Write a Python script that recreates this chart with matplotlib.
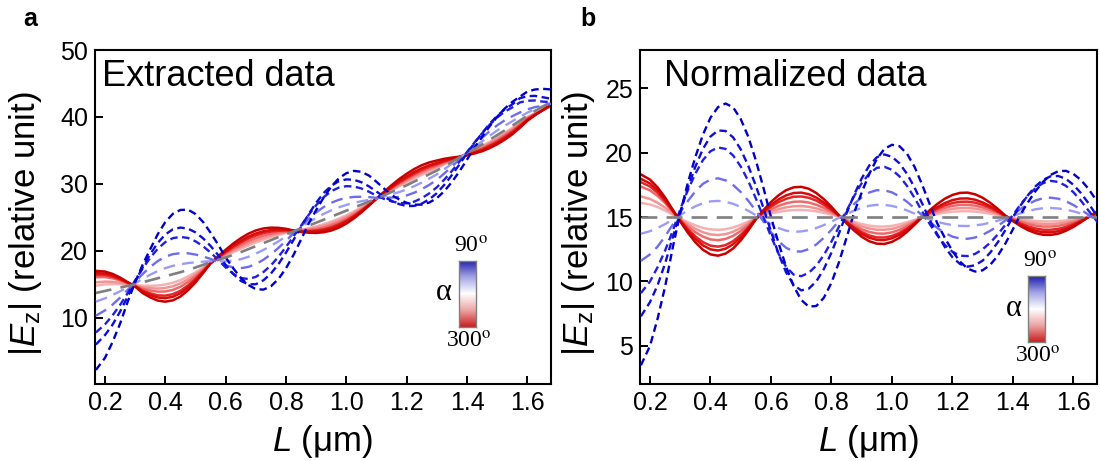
import matplotlib
matplotlib.use("Agg")
import matplotlib.pyplot as plt
import numpy as np
from matplotlib.colors import LinearSegmentedColormap

plt.rcParams['font.family'] = ['Liberation Sans', 'DejaVu Sans']
plt.rcParams['mathtext.fontset'] = 'custom'
plt.rcParams['mathtext.rm'] = 'Liberation Sans'
plt.rcParams['mathtext.it'] = 'Liberation Sans:italic'

# ---------------- data ----------------
L_um = [0.17, 0.200, 0.225, 0.250, 0.275, 0.300, 0.325, 0.350, 0.375, 0.400,
        0.425, 0.450, 0.475, 0.500, 0.525, 0.550, 0.575, 0.600, 0.625, 0.650,
        0.675, 0.700, 0.725, 0.750, 0.775, 0.800, 0.825, 0.850, 0.875, 0.900,
        0.925, 0.950, 0.975, 1.000, 1.025, 1.050, 1.075, 1.100, 1.125, 1.150,
        1.175, 1.200, 1.225, 1.250, 1.275, 1.300, 1.325, 1.350, 1.375, 1.400,
        1.425, 1.450, 1.475, 1.500, 1.525, 1.550, 1.575, 1.600, 1.625, 1.650,
        1.680]

# ---- panel a: extracted data ----
trend_a = [13.7, 14.0, 14.25, 14.5, 14.75, 15.0, 15.3, 15.6, 15.9, 16.2,
           16.5, 16.8, 17.15, 17.5, 17.9, 18.3, 18.65, 19.0, 19.4, 19.8,
           20.25, 20.7, 21.15, 21.6, 22.05, 22.5, 22.9, 23.3, 23.75, 24.2,
           24.65, 25.1, 25.55, 26.0, 26.45, 26.9, 27.35, 27.8, 28.3, 28.8,
           29.3, 29.8, 30.35, 30.9, 31.45, 32.0, 32.65, 33.3, 33.95, 34.6,
           35.25, 35.9, 36.6, 37.3, 38.0, 38.7, 39.45, 40.2, 40.9, 41.5,
           42.3]
red_a1 = [17.00, 16.90, 16.55, 16.01, 15.33, 14.65, 13.69, 13.04, 12.56, 12.40,
          12.60, 13.16, 14.11, 15.28, 16.66, 18.12, 19.18, 20.16, 21.08, 21.88,
          22.55, 23.04, 23.34, 23.46, 23.43, 23.29, 23.03, 22.81, 22.70, 22.67,
          22.77, 23.03, 23.46, 24.07, 24.84, 25.75, 26.75, 27.80, 28.83, 29.81,
          30.72, 31.51, 32.22, 32.79, 33.21, 33.49, 33.75, 33.93, 34.06, 34.28,
          34.55, 34.88, 35.35, 35.92, 36.61, 37.41, 38.38, 39.43, 40.25, 41.00,
          41.94]
red_a2 = [16.66, 16.60, 16.31, 15.85, 15.27, 14.69, 13.91, 13.39, 13.02, 12.92,
          13.13, 13.66, 14.53, 15.58, 16.83, 18.15, 19.08, 19.93, 20.76, 21.48,
          22.11, 22.59, 22.92, 23.10, 23.17, 23.14, 23.01, 22.88, 22.85, 22.89,
          23.04, 23.33, 23.76, 24.35, 25.07, 25.91, 26.83, 27.80, 28.70, 29.57,
          30.38, 31.11, 31.78, 32.34, 32.79, 33.13, 33.49, 33.78, 34.03, 34.32,
          34.65, 35.03, 35.53, 36.12, 36.81, 37.60, 38.53, 39.54, 40.31, 41.00,
          41.87]
red_a3 = [16.40, 16.37, 16.13, 15.73, 15.23, 14.73, 14.07, 13.65, 13.35, 13.30,
          13.52, 14.02, 14.83, 15.81, 16.95, 18.16, 19.01, 19.79, 20.55, 21.21,
          21.82, 22.29, 22.64, 22.87, 22.99, 23.04, 22.99, 22.93, 22.95, 23.04,
          23.22, 23.52, 23.96, 24.53, 25.22, 26.02, 26.89, 27.80, 28.63, 29.44,
          30.20, 30.88, 31.53, 32.09, 32.56, 32.94, 33.35, 33.70, 34.02, 34.37,
          34.75, 35.17, 35.71, 36.31, 37.01, 37.78, 38.68, 39.65, 40.36, 41.00,
          41.81]
red_a4 = [16.05, 16.07, 15.89, 15.58, 15.17, 14.79, 14.33, 14.06, 13.90, 13.92,
          14.16, 14.62, 15.33, 16.17, 17.15, 18.19, 18.92, 19.59, 20.26, 20.86,
          21.43, 21.90, 22.27, 22.55, 22.76, 22.90, 22.97, 23.00, 23.10, 23.25,
          23.49, 23.82, 24.26, 24.81, 25.45, 26.19, 26.98, 27.80, 28.56, 29.31,
          30.01, 30.66, 31.29, 31.84, 32.33, 32.74, 33.20, 33.61, 34.00, 34.43,
          34.88, 35.35, 35.93, 36.56, 37.26, 38.01, 38.88, 39.79, 40.44, 41.00,
          41.74]
red_a5 = [15.30, 15.40, 15.36, 15.23, 15.03, 14.83, 14.56, 14.42, 14.36, 14.45,
          14.70, 15.11, 15.74, 16.47, 17.32, 18.22, 18.84, 19.42, 20.01, 20.55,
          21.08, 21.55, 21.94, 22.27, 22.55, 22.79, 22.95, 23.07, 23.25, 23.47,
          23.76, 24.11, 24.56, 25.08, 25.68, 26.35, 27.06, 27.80, 28.49, 29.17,
          29.82, 30.43, 31.04, 31.60, 32.10, 32.55, 33.06, 33.53, 33.99, 34.47,
          34.98, 35.50, 36.11, 36.76, 37.45, 38.20, 39.03, 39.90, 40.49, 41.00,
          41.67]
red_a6 = [14.80, 14.97, 15.02, 15.00, 14.94, 14.88, 14.78, 14.77, 14.81, 14.97,
          15.23, 15.61, 16.16, 16.77, 17.49, 18.24, 18.77, 19.27, 19.79, 20.29,
          20.79, 21.25, 21.66, 22.04, 22.37, 22.68, 22.93, 23.13, 23.38, 23.65,
          23.98, 24.36, 24.81, 25.31, 25.88, 26.49, 27.13, 27.80, 28.42, 29.04,
          29.64, 30.21, 30.79, 31.35, 31.87, 32.35, 32.91, 33.45, 33.98, 34.52,
          35.08, 35.65, 36.29, 36.96, 37.65, 38.38, 39.18, 40.01, 40.55, 41.00,
          41.60]
blue_a1 = [2.2, 4.0, 6.35, 9.1, 12.35, 15.3, 17.93, 20.25, 22.48, 24.3,
           25.52, 26.1, 26.15, 25.5, 24.32, 22.7, 20.93, 19.0, 17.39, 15.95,
           14.89, 14.27, 14.2, 14.7, 15.79, 17.4, 19.4, 21.7, 24.08, 26.1,
           27.99, 29.6, 30.83, 31.6, 31.94, 31.8, 31.23, 30.3, 29.29, 28.3,
           27.68, 27.16, 26.89, 26.9, 27.22, 27.87, 28.94, 30.3, 31.89, 33.65,
           35.45, 37.05, 38.62, 40.04, 41.27, 42.25, 43.03, 43.8, 44.1, 44.2,
           44.1]
blue_a2 = [6.0, 7.4, 8.95, 10.9, 13.15, 15.38, 17.53, 19.5, 21.18, 22.44,
           23.21, 23.47, 23.32, 22.75, 21.87, 20.72, 19.36, 17.89, 16.55, 15.51,
           14.98, 15.01, 15.59, 16.61, 18.02, 19.74, 21.63, 23.6, 25.47, 27.19,
           28.64, 29.73, 30.4, 30.67, 30.61, 30.24, 29.62, 28.84, 28.07, 27.46,
           26.97, 26.68, 26.71, 27.05, 27.71, 28.62, 29.89, 31.34, 32.93, 34.6,
           36.14, 37.6, 38.99, 40.18, 41.16, 41.88, 42.8, 43.1, 43.15, 42.95,
           42.7]
blue_a3 = [7.8, 9.0, 10.35, 11.9, 13.65, 15.6, 17.37, 18.96, 20.31, 21.3,
           21.89, 22.08, 21.92, 21.42, 20.69, 19.74, 18.65, 17.5, 16.56, 15.94,
           15.78, 16.11, 16.82, 17.83, 19.11, 20.59, 22.16, 23.78, 25.37, 26.82,
           28.02, 28.91, 29.44, 29.66, 29.6, 29.31, 28.82, 28.23, 27.75, 27.38,
           27.14, 27.1, 27.35, 27.87, 28.59, 29.5, 30.66, 31.95, 33.34, 34.76,
           36.21, 37.57, 38.85, 39.93, 40.8, 41.42, 42.17, 42.42, 42.46, 42.29,
           42.2]
blue_a4 = [10.3, 11.1, 11.95, 13.0, 14.15, 15.36, 16.53, 17.59, 18.47, 19.11,
           19.5, 19.64, 19.63, 19.44, 19.16, 18.79, 18.3, 17.83, 17.53, 17.41,
           17.59, 18.02, 18.66, 19.47, 20.44, 21.51, 22.61, 23.69, 24.76, 25.73,
           26.55, 27.18, 27.62, 27.91, 28.05, 28.08, 28.02, 27.91, 27.91, 27.95,
           28.06, 28.28, 28.68, 29.21, 29.86, 30.62, 31.58, 32.61, 33.68, 34.78,
           35.87, 36.89, 37.88, 38.76, 39.5, 40.12, 40.67, 41.13, 41.47, 41.67,
           42.0]
blue_a5 = [12.4, 12.9, 13.4, 13.95, 14.55, 15.14, 15.81, 16.43, 16.97, 17.41,
           17.75, 17.98, 18.17, 18.28, 18.38, 18.44, 18.43, 18.43, 18.54, 18.74,
           19.1, 19.58, 20.13, 20.75, 21.42, 22.14, 22.84, 23.53, 24.24, 24.91,
           25.52, 26.04, 26.49, 26.86, 27.16, 27.41, 27.61, 27.8, 28.11, 28.43,
           28.78, 29.17, 29.66, 30.2, 30.8, 31.43, 32.21, 33.02, 33.84, 34.68,
           35.54, 36.36, 37.2, 37.98, 38.7, 39.36, 40.02, 40.64, 41.17, 41.58,
           42.2]

# ---- panel b: normalized data ----
level_x = [0.17, 1.68]
level_b = [15.0, 15.0]
red_b1 = [18.30, 17.90, 17.30, 16.51, 15.58, 14.65, 13.79, 13.04, 12.46, 12.10,
          12.00, 12.16, 12.56, 13.18, 13.96, 14.82, 15.53, 16.16, 16.68, 17.08,
          17.30, 17.34, 17.19, 16.86, 16.38, 15.79, 15.13, 14.51, 13.95, 13.47,
          13.12, 12.93, 12.91, 13.07, 13.39, 13.85, 14.40, 15.00, 15.53, 16.01,
          16.42, 16.71, 16.87, 16.89, 16.76, 16.49, 16.10, 15.63, 15.11, 14.68,
          14.30, 13.98, 13.75, 13.62, 13.61, 13.71, 13.93, 14.23, 14.60, 15.00,
          15.44]
red_b2 = [17.96, 17.60, 17.06, 16.35, 15.52, 14.69, 13.95, 13.30, 12.80, 12.49,
          12.40, 12.54, 12.89, 13.42, 14.10, 14.85, 15.43, 15.93, 16.36, 16.68,
          16.86, 16.89, 16.77, 16.50, 16.12, 15.64, 15.11, 14.58, 14.10, 13.69,
          13.39, 13.23, 13.21, 13.35, 13.62, 14.01, 14.48, 15.00, 15.40, 15.77,
          16.08, 16.31, 16.43, 16.44, 16.34, 16.13, 15.84, 15.48, 15.08, 14.72,
          14.40, 14.13, 13.93, 13.82, 13.81, 13.90, 14.08, 14.34, 14.66, 15.00,
          15.37]
red_b3 = [17.70, 17.37, 16.88, 16.23, 15.48, 14.73, 14.07, 13.50, 13.05, 12.78,
          12.70, 12.82, 13.13, 13.61, 14.20, 14.86, 15.36, 15.79, 16.15, 16.41,
          16.57, 16.59, 16.49, 16.27, 15.94, 15.54, 15.09, 14.63, 14.20, 13.84,
          13.57, 13.42, 13.41, 13.53, 13.77, 14.12, 14.54, 15.00, 15.33, 15.64,
          15.90, 16.08, 16.18, 16.19, 16.11, 15.94, 15.70, 15.40, 15.07, 14.77,
          14.50, 14.27, 14.11, 14.01, 14.01, 14.08, 14.23, 14.45, 14.71, 15.00,
          15.31]
red_b4 = [17.35, 17.07, 16.64, 16.08, 15.42, 14.79, 14.27, 13.82, 13.48, 13.26,
          13.20, 13.30, 13.54, 13.91, 14.37, 14.89, 15.27, 15.59, 15.86, 16.06,
          16.18, 16.20, 16.12, 15.95, 15.71, 15.40, 15.07, 14.70, 14.35, 14.05,
          13.84, 13.72, 13.71, 13.81, 14.00, 14.29, 14.63, 15.00, 15.26, 15.51,
          15.71, 15.86, 15.94, 15.94, 15.88, 15.74, 15.55, 15.31, 15.05, 14.83,
          14.63, 14.45, 14.33, 14.26, 14.26, 14.31, 14.43, 14.59, 14.79, 15.00,
          15.24]
red_b5 = [16.60, 16.40, 16.11, 15.73, 15.28, 14.83, 14.44, 14.09, 13.82, 13.65,
          13.60, 13.67, 13.86, 14.15, 14.51, 14.92, 15.19, 15.42, 15.61, 15.75,
          15.83, 15.85, 15.79, 15.67, 15.50, 15.29, 15.05, 14.77, 14.50, 14.27,
          14.11, 14.01, 14.01, 14.08, 14.23, 14.45, 14.71, 15.00, 15.19, 15.37,
          15.52, 15.63, 15.69, 15.70, 15.65, 15.55, 15.41, 15.23, 15.04, 14.87,
          14.73, 14.60, 14.51, 14.46, 14.45, 14.50, 14.58, 14.70, 14.84, 15.00,
          15.17]
red_b6 = [16.10, 15.97, 15.77, 15.50, 15.19, 14.88, 14.60, 14.35, 14.15, 14.04,
          14.00, 14.05, 14.19, 14.39, 14.65, 14.94, 15.12, 15.27, 15.39, 15.49,
          15.54, 15.55, 15.51, 15.44, 15.32, 15.18, 15.03, 14.83, 14.63, 14.45,
          14.33, 14.26, 14.26, 14.31, 14.43, 14.59, 14.78, 15.00, 15.12, 15.24,
          15.34, 15.41, 15.44, 15.45, 15.42, 15.35, 15.26, 15.15, 15.03, 14.92,
          14.83, 14.75, 14.69, 14.66, 14.65, 14.68, 14.73, 14.81, 14.90, 15.00,
          15.10]
blue_b1 = [3.5, 5.0, 7.1, 9.6, 12.6, 15.3, 17.63, 19.65, 21.38, 22.7,
           23.52, 23.8, 23.5, 22.6, 21.22, 19.4, 17.28, 15.0, 12.99, 11.15,
           9.64, 8.57, 8.05, 8.1, 8.74, 9.9, 11.5, 13.4, 15.33, 16.9,
           18.34, 19.5, 20.28, 20.6, 20.49, 19.9, 18.88, 17.5, 15.99, 14.5,
           13.38, 12.36, 11.54, 11.0, 10.77, 10.87, 11.29, 12.0, 12.94, 14.05,
           15.2, 16.15, 17.02, 17.74, 18.27, 18.55, 18.58, 18.34, 17.87, 17.18,
           16.15]
blue_b2 = [7.3, 8.4, 9.7, 11.4, 13.4, 15.38, 17.23, 18.9, 20.28, 21.24,
           21.71, 21.67, 21.17, 20.25, 18.97, 17.42, 15.71, 13.89, 12.15, 10.71,
           9.73, 9.31, 9.44, 10.01, 10.97, 12.24, 13.73, 15.3, 16.72, 17.99,
           18.99, 19.63, 19.85, 19.67, 19.16, 18.34, 17.27, 16.04, 14.77, 13.66,
           12.67, 11.88, 11.36, 11.15, 11.26, 11.62, 12.24, 13.04, 13.98, 15.0,
           15.89, 16.7, 17.39, 17.88, 18.16, 18.18, 17.96, 17.5, 16.85, 16.06,
           15.0]
blue_b3 = [9.1, 10.0, 11.1, 12.4, 13.9, 15.6, 17.07, 18.36, 19.41, 20.1,
           20.39, 20.28, 19.77, 18.92, 17.79, 16.44, 15.0, 13.5, 12.16, 11.14,
           10.53, 10.41, 10.67, 11.23, 12.06, 13.09, 14.26, 15.48, 16.62, 17.62,
           18.37, 18.81, 18.89, 18.66, 18.15, 17.41, 16.47, 15.43, 14.45, 13.58,
           12.84, 12.3, 12.0, 11.97, 12.14, 12.5, 13.01, 13.65, 14.39, 15.16,
           15.96, 16.67, 17.25, 17.63, 17.8, 17.72, 17.42, 16.92, 16.26, 15.49,
           14.6]
blue_b4 = [11.6, 12.1, 12.7, 13.5, 14.4, 15.36, 16.23, 16.99, 17.57, 17.91,
           18.0, 17.84, 17.48, 16.94, 16.26, 15.49, 14.65, 13.83, 13.13, 12.61,
           12.34, 12.32, 12.51, 12.87, 13.39, 14.01, 14.71, 15.39, 16.01, 16.53,
           16.9, 17.08, 17.07, 16.91, 16.6, 16.18, 15.67, 15.11, 14.61, 14.15,
           13.76, 13.48, 13.33, 13.31, 13.41, 13.62, 13.93, 14.31, 14.73, 15.18,
           15.62, 15.99, 16.28, 16.46, 16.5, 16.42, 16.22, 15.93, 15.57, 15.17,
           14.7]
blue_b5 = [13.7, 13.9, 14.15, 14.45, 14.8, 15.14, 15.51, 15.83, 16.07, 16.21,
           16.25, 16.18, 16.02, 15.78, 15.48, 15.14, 14.78, 14.43, 14.14, 13.94,
           13.85, 13.88, 13.98, 14.15, 14.37, 14.64, 14.94, 15.23, 15.49, 15.71,
           15.87, 15.94, 15.94, 15.86, 15.71, 15.51, 15.26, 15.0, 14.81, 14.63,
           14.48, 14.37, 14.31, 14.3, 14.35, 14.43, 14.56, 14.72, 14.89, 15.08,
           15.29, 15.46, 15.6, 15.68, 15.7, 15.66, 15.57, 15.44, 15.27, 15.08,
           14.9]

x_ticks = [0.2, 0.4, 0.6, 0.8, 1.0, 1.2, 1.4, 1.6]
x_ticklabels = ['0.2', '0.4', '0.6', '0.8', '1.0', '1.2', '1.4', '1.6']
y_ticks_a = [10, 20, 30, 40, 50]
y_ticks_b = [5, 10, 15, 20, 25]

# light -> dark
red_colors = ['#f6b2b2', '#f39393', '#ee6a6a', '#e42626', '#d80c0c', '#c80000']
blue_colors = ['#9c9cf6', '#6d6dee', '#2020e0', '#0e0ed8', '#0000cc']
blue_dashes = [(0, (5, 3)), (0, (5, 3)), (0, (3.2, 1.9)), (0, (3.2, 1.9)), (0, (3.2, 1.9))]

W, H = 1101, 461
fig = plt.figure(figsize=(W / 100, H / 100), dpi=100)


def px_box(x0, y0, x1, y1):
    return [x0 / W, 1 - y1 / H, (x1 - x0) / W, (y1 - y0) / H]


ax_a = fig.add_axes(px_box(95, 50, 551, 384))
ax_b = fig.add_axes(px_box(640, 50, 1097, 384))

reds_a = [red_a6, red_a5, red_a4, red_a3, red_a2, red_a1]
blues_a = [blue_a5, blue_a4, blue_a3, blue_a2, blue_a1]
reds_b = [red_b6, red_b5, red_b4, red_b3, red_b2, red_b1]
blues_b = [blue_b5, blue_b4, blue_b3, blue_b2, blue_b1]

for ax, reds, blues, bx, base in [(ax_a, reds_a, blues_a, L_um, trend_a),
                                  (ax_b, reds_b, blues_b, level_x, level_b)]:
    for vals, c in zip(reds, red_colors):
        ax.plot(L_um, vals, color=c, lw=1.8, solid_joinstyle='round', zorder=2)
    for vals, c, ls in zip(blues, blue_colors, blue_dashes):
        ax.plot(L_um, vals, color=c, lw=1.7, linestyle=ls, zorder=3)
    ax.plot(bx, base, color='#7f7f7f', lw=1.9, linestyle=(0, (6, 3.5)), zorder=4)
    ax.set_xlim(0.167, 1.678)
    ax.set_xticks(x_ticks)
    ax.set_xticklabels(x_ticklabels)
    ax.tick_params(direction='in', length=6, width=1.4, labelsize=18, top=False, right=False, pad=5)
    for s in ax.spines.values():
        s.set_linewidth(1.5)
    ax.set_xlabel(r'$L$ (μm)', fontsize=25)
    ax.set_ylabel(r'$|E_{\mathrm{z}}|$ (relative unit)', fontsize=25)
    ax.xaxis.set_label_coords(0.5, -0.118)

ax_a.set_ylim(0.1, 50)
ax_a.set_yticks(y_ticks_a)
ax_b.set_ylim(2.05, 27.95)
ax_b.set_yticks(y_ticks_b)
ax_a.yaxis.set_label_coords(-0.112, 0.48)
ax_b.yaxis.set_label_coords(-0.094, 0.48)

fig.text(102 / W, 1 - 86 / H, 'Extracted data', fontsize=26, va='baseline', ha='left')
fig.text(664 / W, 1 - 86 / H, 'Normalized data', fontsize=26, va='baseline', ha='left')
fig.text(30 / W, 1 - 19 / H, 'a', fontsize=18, fontweight='bold', ha='center', va='center')
fig.text(588 / W, 1 - 19 / H, 'b', fontsize=18, fontweight='bold', ha='center', va='center')

# colour bars for alpha
cmap = LinearSegmentedColormap.from_list('rwb', ['#c81e1e', '#eda3a3', '#ffffff', '#a3a3e6', '#1e1eaa'])
grad = np.linspace(0, 1, 256).reshape(-1, 1)
for (x0, y0, x1, y1), a_pos in [((459, 261, 476, 327), (444, 292)),
                                ((1028, 276, 1045, 342), (1014, 308))]:
    cax = fig.add_axes(px_box(x0, y0, x1, y1))
    cax.imshow(grad, aspect='auto', cmap=cmap, origin='lower', extent=[0, 1, 0, 1])
    cax.set_xticks([])
    cax.set_yticks([])
    for s in cax.spines.values():
        s.set_color('#808080')
        s.set_linewidth(1.0)
    xc = (x0 + x1) / 2
    fig.text((xc + 3) / W, 1 - (y0 - 3) / H, r'90$^{\mathrm{o}}$', fontsize=17, family='Liberation Serif',
             math_fontfamily='stix', ha='center', va='bottom')
    fig.text((xc + 1) / W, 1 - (y1 + 5) / H, r'300$^{\mathrm{o}}$', fontsize=17, family='Liberation Serif',
             math_fontfamily='stix', ha='center', va='top')
    fig.text(a_pos[0] / W, 1 - a_pos[1] / H, 'α', fontsize=22, family='Liberation Serif',
             ha='center', va='center')

fig.savefig('out.png', dpi=100)
